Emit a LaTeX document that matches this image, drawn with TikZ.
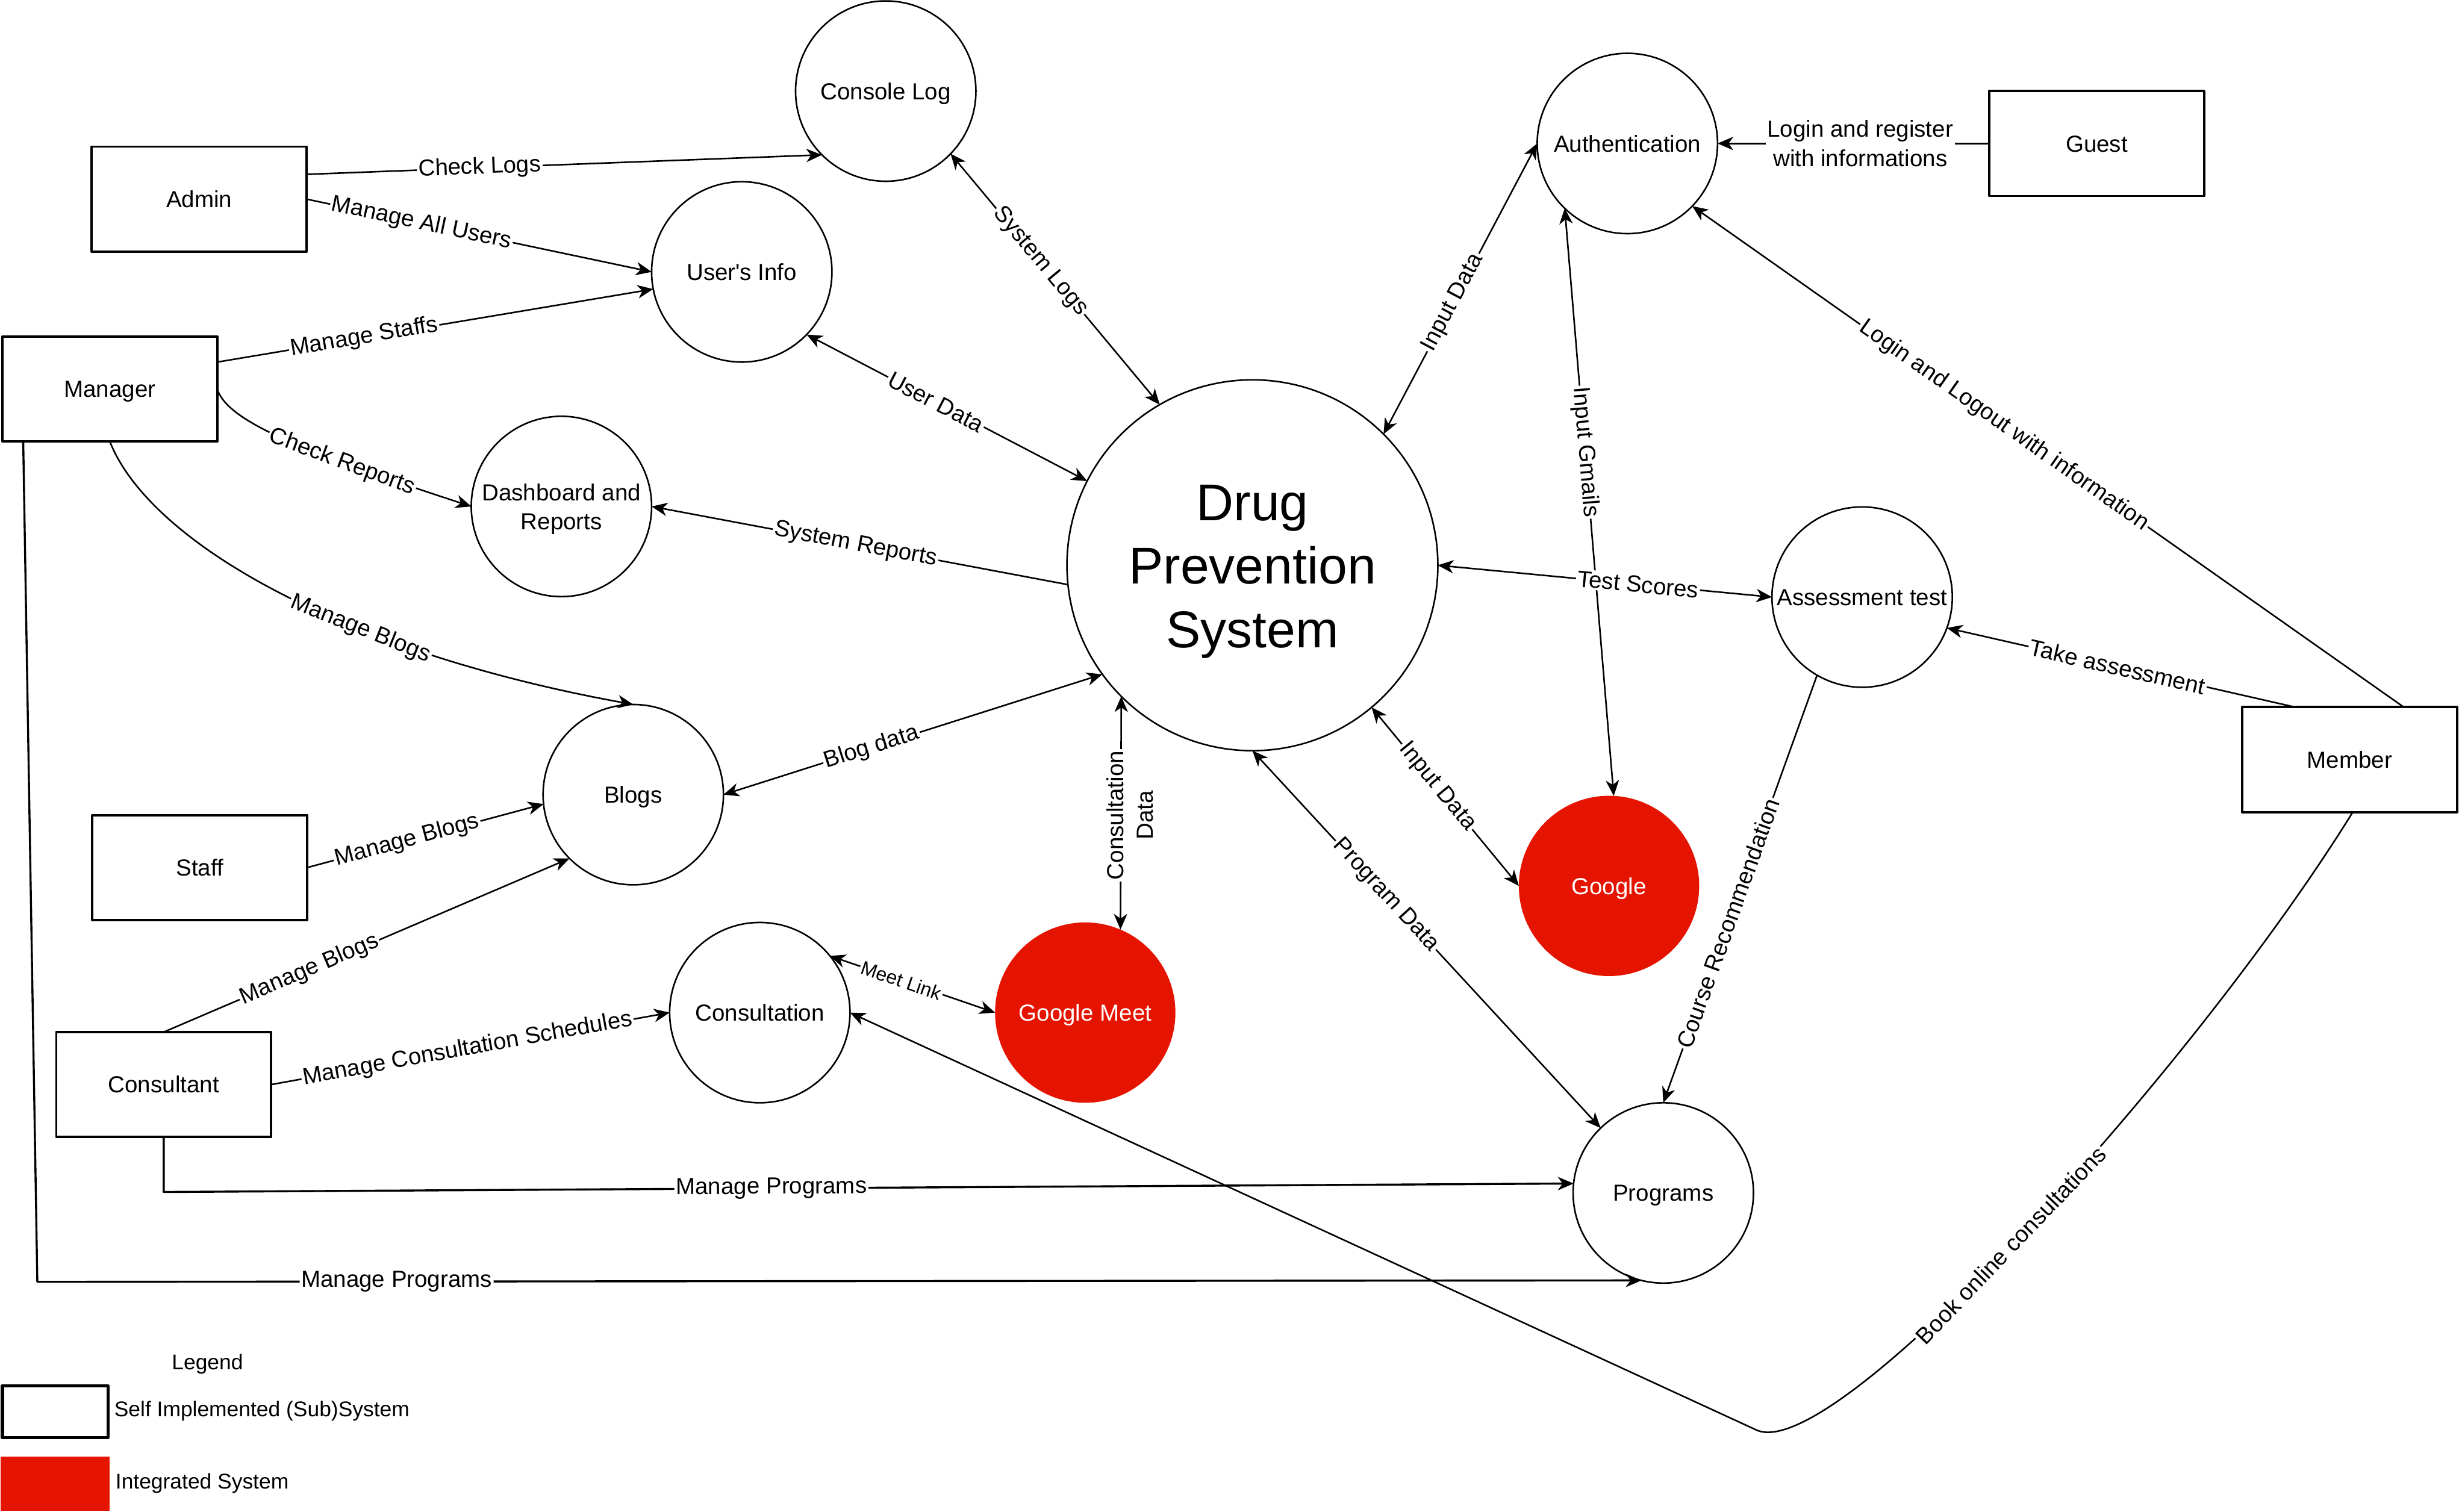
\documentclass[tikz,border=0pt]{standalone}
\usepackage{fontspec}
\setmainfont{Liberation Sans}
\usetikzlibrary{arrows.meta,calc}
\definecolor{dioRed}{HTML}{E51400}
\newcommand\mainsz{\fontsize{14.8pt}{18.5pt}\selectfont}
\newcommand\bigsz{\fontsize{33pt}{40.5pt}\selectfont}
\newcommand\legsz{\fontsize{13.6pt}{17pt}\selectfont}
\newcommand\smsz{\fontsize{12.3pt}{15pt}\selectfont}
\newcommand\sq{\XeTeXglyph\XeTeXcharglyph"0027 }
\tikzset{
  extbox/.style={rectangle, draw, line width=1.5pt, minimum width=137pt, minimum height=67pt, inner sep=0pt, outer sep=0pt, font=\mainsz, text height=10.6pt, text depth=0pt},
  procc/.style={circle, draw, line width=1pt, minimum size=115pt, inner sep=0pt, outer sep=0pt, font=\mainsz, text height=10.6pt, text depth=0pt},
  integc/.style={circle, fill=dioRed, minimum size=115pt, inner sep=0pt, outer sep=0pt, font=\mainsz, text=white, text height=10.6pt, text depth=0pt},
  lblbase/.style={fill=white, inner sep=1pt, font=\mainsz},
  lbl/.style={lblbase, sloped},
  conn/.style={line width=1pt},
  connthick/.style={line width=1.3pt}
}
\begin{document}
\begin{tikzpicture}[x=1pt,y=-1pt, >={Stealth[length=10pt,width=8.5pt,inset=3pt]}, line join=round]
\useasboundingbox (0,0) rectangle (1568,964);

% external entities
\node[extbox] (admin) at (127,127) {Admin};
\node[extbox] (manager) at (70,248) {Manager};
\node[extbox] (staff) at (127.4,553.3) {Staff};
\node[extbox] (consultant) at (104.4,691.7) {Consultant};
\node[extbox] (guest) at (1337,91.5) {Guest};
\node[extbox] (member) at (1498.2,484.5) {Member};

% processes
\node[procc] (console) at (564.8,58.1) {Console Log};
\node[procc] (auth) at (1037.7,91.5) {Authentication};
\node[procc] (users) at (473,173.4) {User\sq s Info};
\node[procc] (dash) at (358,323) {};
\node[font=\mainsz, align=center, inner sep=0pt] (dashtxt) at (358,324.8) {Dashboard and\\Reports};
\node[procc] (blogs) at (403.8,506.8) {Blogs};
\node[procc, minimum size=236.5pt] (dps) at (798.6,360.5) {};
\node[font=\bigsz, align=center, inner sep=0pt] (dpstxt) at (798.6,364.5) {Drug\\Prevention\\System};
\node[integc] (google) at (1026,565) {Google};
\node[procc] (assess) at (1187.4,380.8) {Assessment test};
\node[procc] (consult) at (484.5,645.8) {Consultation};
\node[integc] (gmeet) at (692,645.8) {Google Meet};
\node[procc] (programs) at (1060.6,760.8) {Programs};

\coordinate (bend) at (1120,912);

% connectors
\draw[conn,->] (admin.13.8) -- node[lbl,pos=0.336] (lCheckLogs) {Check Logs} (console.225.7);
\draw[conn,->] (admin.east) -- node[lbl,pos=0.333] (lAllUsers) {Manage All Users} (users.west);
\draw[conn,->] (manager.14) -- node[lbl,pos=0.337] (lStaffs) {Manage Staffs} (users.191.8);
\draw[conn,->] (manager.east) .. controls (145,270) and (200,290) .. node[lbl,pos=0.68] (lReports) {Check Reports} (dash.west);
\draw[conn,->] (manager.south) .. controls (95,345) and (215,415) .. node[lbl,pos=0.645] (lMgrBlogs) {Manage Blogs} (blogs.north);
\draw[connthick,->] ([xshift=13.3pt]manager.south west) -- ++(9,536) -- node[lbl,pos=0.224] (lMgrProg) {Manage Programs} (programs.256.8);
\draw[connthick,->] (consultant.south) -- ++(0,35) -- node[lbl,pos=0.431] (lConProg) {Manage Programs} (programs.174.5);
\draw[conn,->] (staff.east) -- node[lbl,pos=0.423] (lStaffBlogs) {Manage Blogs} (blogs.186.2);
\draw[conn,->] (consultant.north) -- node[lbl,pos=0.359] (lConBlogs) {Manage Blogs} (blogs.225);
\draw[conn,->] (consultant.east) -- node[lbl,pos=0.493] (lSched) {Manage Consultation Schedules} (consult.west);
\draw[conn,<->] (consult.39) -- node[lbl,pos=0.433,font=\smsz] (lMeet) {Meet Link} (gmeet.west);
\draw[conn,->] ([xshift=2pt]member.south) .. controls (1400,680) and (1170,935) .. node[lbl,pos=0.52] (lBook) {Book online consultations} (bend) -- (consult.east);
\draw[conn,->] ([xshift=34.6pt]member.north) -- node[lbl,pos=0.562] (lLogout) {Login and Logout with information} (auth.-44.7);
\draw[conn,->] (guest.west) -- node[lbl,pos=0.475,align=center] (lRegister) {Login and register\\with informations} (auth.east);
\draw[conn,<->] (dps.45) -- node[lbl,pos=0.453] (lInAuth) {Input Data} (auth.west);
\draw[conn,<->] (console.-44.4) -- node[lbl,pos=0.429] (lSysLogs) {System Logs} (dps.120.6);
\draw[conn,<->] (users.-44.8) -- node[lbl,pos=0.461] (lUserData) {User Data} (dps.153.2);
\draw[conn,->] (dps.186.9) -- node[lbl,pos=0.51] (lSysRep) {System Reports} (dash.east);
\draw[conn,<->] (blogs.east) -- node[lbl,pos=0.391] (lBlogData) {Blog data} (dps.216.2);
\draw[conn,<->] (dps.225.2) -- (gmeet.67.7);
\node[lblbase, rotate=90, align=center] (lConsData) at (720.5,520) {Consultation\\Data};
\draw[conn,<->] (dps.-50) -- node[lbl,pos=0.445] (lInGoogle) {Input Data} (google.west);
\draw[conn,<->] (dps.270.9) -- node[lbl,pos=0.383] (lProgData) {Program Data} (programs.134.8);
\draw[conn,<->] (auth.226.6) -- node[lbl,pos=0.415] (lGmails) {Input Gmails} (google.87);
\draw[conn,<->] (dps.east) -- node[lbl,pos=0.599] (lScores) {Test Scores} (assess.west);
\draw[conn,->] ([xshift=-34.6pt]member.north) -- node[lbl,pos=0.51] (lTake) {Take assessment} (assess.-20.3);
\draw[conn,->] (assess.240.3) -- node[lbl,pos=0.58] (lCourse) {Course Recommendation} (programs.north);

% legend
\node[font=\legsz, inner sep=0pt] (legtitle) at (132.3,869.8) {Legend};
\node[draw, line width=2pt, minimum width=67.3pt, minimum height=33pt, inner sep=0pt, outer sep=0pt] (legself) at (35.15,900.3) {};
\node[fill=dioRed, minimum width=69.3pt, minimum height=34.6pt, inner sep=0pt, outer sep=0pt] (legint) at (35.15,946.3) {};
\node[font=\legsz, anchor=west, inner sep=0pt] (legselftxt) at (72.7,900) {Self Implemented (Sub)System};
\node[font=\legsz, anchor=west, inner sep=0pt] (leginttxt) at (73.5,946) {Integrated System};
\end{tikzpicture}
\end{document}
